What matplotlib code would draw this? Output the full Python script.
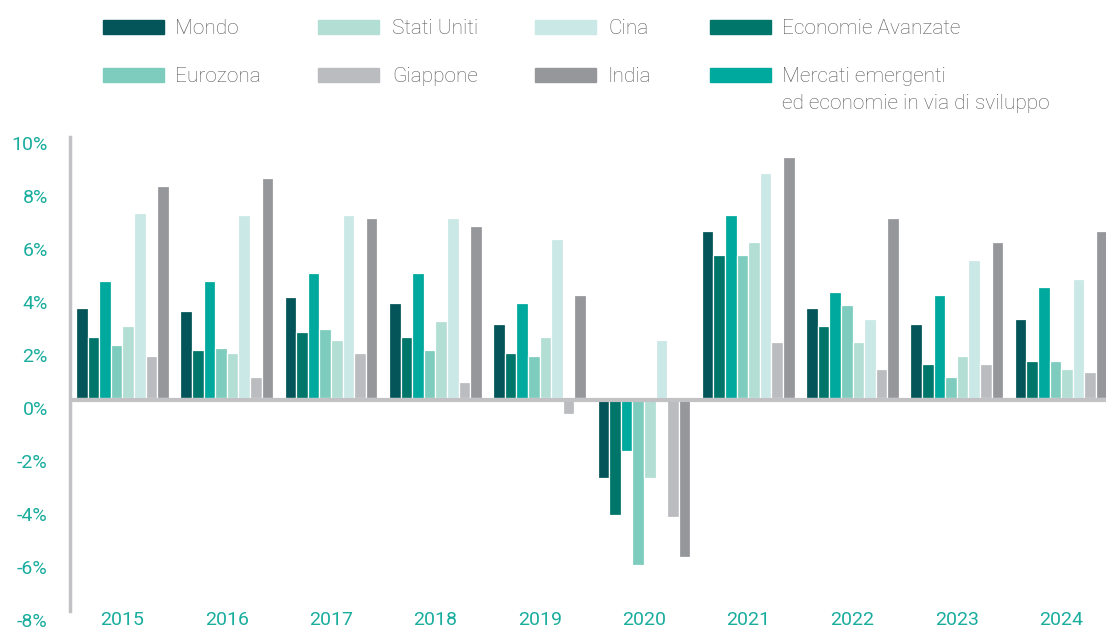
import numpy as np
import matplotlib
matplotlib.use("Agg")
import matplotlib.pyplot as plt
import matplotlib.transforms as mtransforms
from matplotlib import font_manager as fm
from matplotlib.patches import Rectangle

years = ["2015", "2016", "2017", "2018", "2019", "2020", "2021", "2022", "2023", "2024"]
mondo = [3.4, 3.3, 3.8, 3.6, 2.8, -3.0, 6.3, 3.4, 2.8, 3.0]
avanzate = [2.3, 1.8, 2.5, 2.3, 1.7, -4.4, 5.4, 2.7, 1.3, 1.4]
emergenti = [4.4, 4.4, 4.7, 4.7, 3.6, -2.0, 6.9, 4.0, 3.9, 4.2]
eurozona = [2.0, 1.9, 2.6, 1.8, 1.6, -6.3, 5.4, 3.5, 0.8, 1.4]
stati_uniti = [2.7, 1.7, 2.2, 2.9, 2.3, -3.0, 5.9, 2.1, 1.6, 1.1]
cina = [7.0, 6.9, 6.9, 6.8, 6.0, 2.2, 8.5, 3.0, 5.2, 4.5]
giappone = [1.6, 0.8, 1.7, 0.6, -0.6, -4.5, 2.1, 1.1, 1.3, 1.0]
india = [8.0, 8.3, 6.8, 6.5, 3.9, -6.0, 9.1, 6.8, 5.9, 6.3]

series = [
    ("Mondo", mondo, "#045559"),
    ("Economie Avanzate", avanzate, "#00756a"),
    ("Mercati emergenti\ned economie in via di sviluppo", emergenti, "#00a99d"),
    ("Eurozona", eurozona, "#7dccbe"),
    ("Stati Uniti", stati_uniti, "#b2ded4"),
    ("Cina", cina, "#cae8e6"),
    ("Giappone", giappone, "#bbbcbf"),
    ("India", india, "#96979b"),
]

names = {f.name for f in fm.fontManager.ttflist}
font = "DejaVu Sans"
for cand in ["Liberation Sans Narrow", "Roboto", "Open Sans"]:
    if cand in names:
        font = cand
        break
plt.rcParams["font.family"] = [font, "DejaVu Sans"]

teal_txt = "#19ad9e"
grey_line = "#c2c2c4"

fig = plt.figure(figsize=(11.06, 6.30), dpi=100)
ax = fig.add_axes([70 / 1106, 1 - 610 / 630, 1 - 70 / 1106, (610 - 133) / 630])

x = np.arange(len(years))
w = 0.89 / 8
for i, (label, vals, col) in enumerate(series):
    ax.bar(x + (i - 3.5) * w, vals, width=w, color=col, edgecolor="white",
           linewidth=0.9, zorder=2)

# zero line sits just under the baseline
ax.axhline(-0.09, color=grey_line, lw=3, zorder=3)
ax.set_xlim(-0.503, 9.43)
ax.set_ylim(-8, 10)

ax.set_yticks(np.arange(-8, 11, 2))
ax.set_yticklabels([f"{v}%" for v in range(-8, 11, 2)])
ax.set_xticks(x)
ax.set_xticklabels(years)
ax.tick_params(axis="y", length=0, pad=16, labelsize=14, labelcolor=teal_txt)
ax.tick_params(axis="x", length=0, pad=1, labelsize=14, labelcolor=teal_txt)
offset = mtransforms.ScaledTranslation(0, -10 / 100, fig.dpi_scale_trans)
for lab in ax.get_yticklabels():
    lab.set_transform(lab.get_transform() + offset)

for s in ["top", "right", "bottom"]:
    ax.spines[s].set_visible(False)
ax.spines["left"].set_color(grey_line)
ax.spines["left"].set_linewidth(2.5)
ax.spines["left"].set_bounds(-8.05, 9.85)

# legend, drawn by hand in pixel positions
leg_order = [0, 4, 5, 1, 3, 6, 7, 2]
sw_x = [103, 318, 535, 710]
txt_x = [175, 392, 608, 782]
row_y = [27, 75]
for k, idx in enumerate(leg_order):
    label, _, col = series[idx]
    r, c = divmod(k, 4)
    yc = row_y[r]
    fig.patches.append(Rectangle((sw_x[c] / 1106, 1 - (yc + 7) / 630), 61 / 1106, 14 / 630,
                                 transform=fig.transFigure, color=col))
    fig.text(txt_x[c] / 1106, 1 - (yc - 8) / 630, label, fontsize=15, color="#58595b",
             fontweight="light", va="top", ha="left", linespacing=1.55)

fig.savefig("out.png", dpi=100)
